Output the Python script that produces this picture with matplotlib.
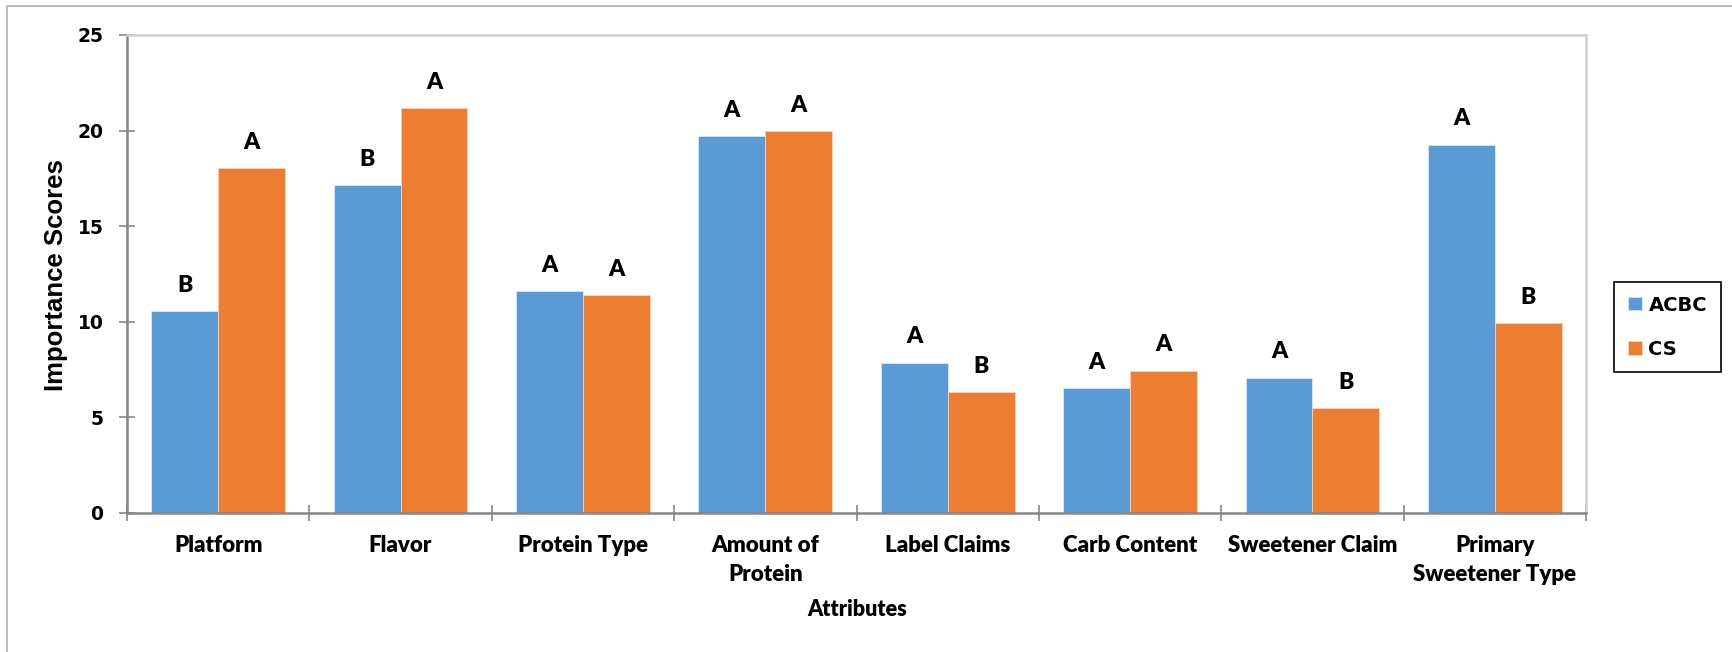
# bar chart of attribute importance scores, ACBC vs CS
import numpy as np
import matplotlib.pyplot as plt
from matplotlib.lines import Line2D

# data
attributes = ['Platform', 'Flavor', 'Protein Type', 'Amount of\nProtein', 'Label Claims',
              'Carb Content', 'Sweetener Claim', 'Primary\nSweetener Type']
acbc = [10.55, 17.15, 11.6, 19.7, 7.87, 6.52, 7.08, 19.25]
cs = [18.02, 21.17, 11.4, 19.97, 6.31, 7.43, 5.47, 9.92]
acbc_letters = ['B', 'B', 'A', 'A', 'A', 'A', 'A', 'A']
cs_letters = ['A', 'A', 'A', 'A', 'B', 'A', 'B', 'B']
series_names = ['ACBC', 'CS']
yticks = [0, 5, 10, 15, 20, 25]

blue = '#5b9bd5'
orange = '#ed7d31'

W, H = 1732, 652
fig = plt.figure(figsize=(W / 100, H / 100), dpi=100)
ax = fig.add_axes([127 / W, 1 - 513 / H, (1586 - 127) / W, (513 - 35) / H])

x = np.arange(len(attributes))
bw = 0.367
b1 = ax.bar(x - bw / 2, acbc, bw, color=blue, edgecolor='#dbe8f5', linewidth=0.6, label=series_names[0])
b2 = ax.bar(x + bw / 2, cs, bw, color=orange, edgecolor='#f7d3bd', linewidth=0.6, label=series_names[1])

# significance letters above bars
for bars, letters in [(b1, acbc_letters), (b2, cs_letters)]:
    for rect, txt in zip(bars, letters):
        ax.annotate(txt, (rect.get_x() + rect.get_width() / 2, rect.get_height()),
                    xytext=(0, 14), textcoords='offset points', ha='center', va='baseline',
                    fontsize=16.5, fontweight='heavy', family='Lato')

ax.set_xlim(-0.5, len(attributes) - 0.5)
ax.set_ylim(0, 25)
ax.set_yticks(yticks)
ax.set_yticklabels([str(v) for v in yticks], fontsize=13.5, fontweight='bold', family='DejaVu Sans')

# category names at centres, tick marks at the boundaries
ax.set_xticks(x)
ax.set_xticklabels(attributes, fontsize=16, fontweight='heavy', family='Lato', linespacing=1.45)
ax.set_xticks(np.arange(-0.5, len(attributes)), minor=True)
ax.tick_params(axis='x', which='major', length=0, pad=16)
ax.tick_params(axis='x', which='minor', direction='inout', length=11.5, width=1.2, color='#868686')
ax.tick_params(axis='y', direction='inout', length=11, width=1.2, color='#868686', pad=11.5)

for side in ['left', 'bottom']:
    ax.spines[side].set_color('#868686')
    ax.spines[side].set_linewidth(1.8)
for side in ['top', 'right']:
    ax.spines[side].set_color('#d0d0d0')
    ax.spines[side].set_linewidth(1.8)

fig.text(857 / W, 1 - 616 / H, 'Attributes', ha='center', va='baseline',
         fontsize=15.5, fontweight='heavy', family='Lato')
fig.text(56 / W, 1 - 275 / H, 'Importance Scores', ha='center', va='center', rotation=90,
         fontsize=18.5, fontweight='bold', family='Liberation Sans')

fig.legend(handles=[b1, b2], loc='upper left', bbox_to_anchor=(1614 / W, 1 - 282 / H),
           prop={'weight': 'bold', 'size': 14, 'family': 'DejaVu Sans'},
           frameon=True, fancybox=False, edgecolor='black', framealpha=1,
           handlelength=0.72, handleheight=0.67, handletextpad=0.35,
           labelspacing=1.3, borderpad=0.7, borderaxespad=0)
fig.legends[0].get_frame().set_linewidth(1.2)

# outer chart border (left and top only, the rest is cropped)
fig.add_artist(Line2D([7 / W, 7 / W, 1.0], [0.0, 1 - 6 / H, 1 - 6 / H],
                      transform=fig.transFigure, color='#bcbcbc', linewidth=1.5))

fig.savefig('out.png', dpi=100)
